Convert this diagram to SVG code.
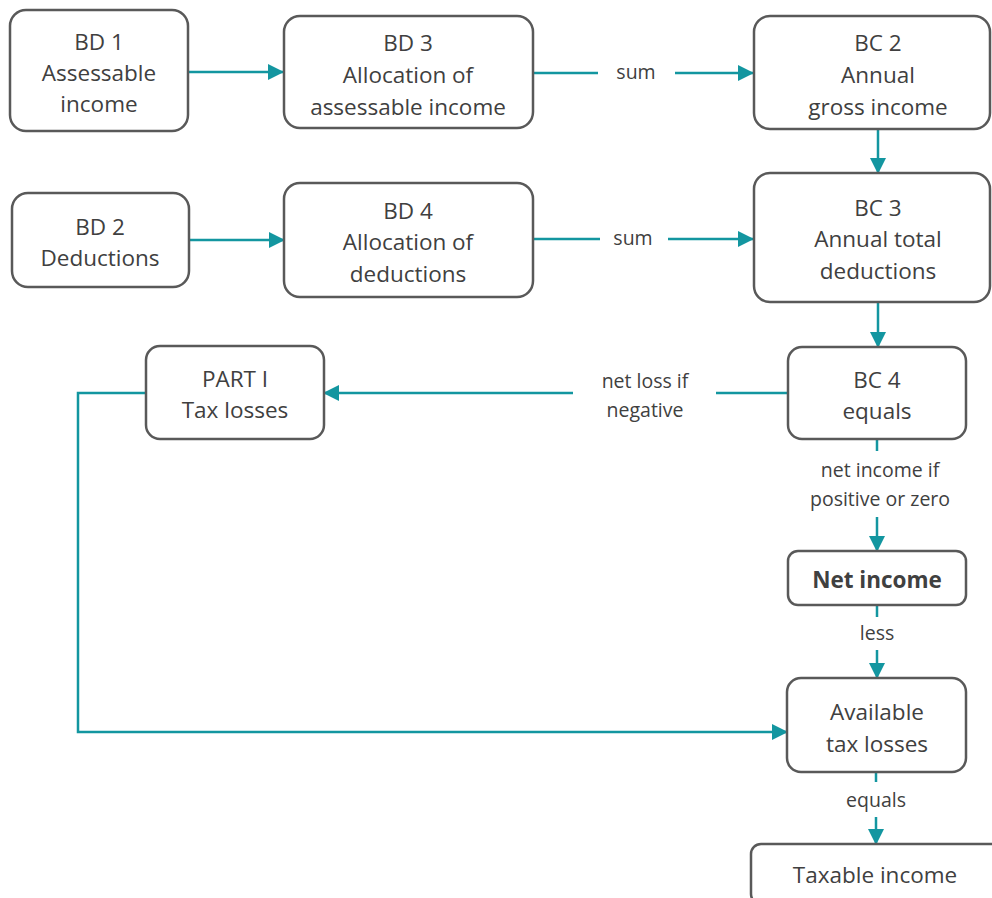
<svg xmlns="http://www.w3.org/2000/svg" width="992" height="898" viewBox="0 0 992 898">
<defs>
<marker id="arr" markerUnits="userSpaceOnUse" markerWidth="16" markerHeight="16" viewBox="0 0 16 16" refX="15" refY="8" orient="auto">
<path d="M0,0 L16,8 L0,16 Z" fill="#1396a0"/>
</marker>
<style>
.box{fill:#fff;stroke:#595959;stroke-width:2.5}
.t{font-family:"Open Sans","Noto Sans",sans-serif;font-size:22.5px;fill:#404040;text-anchor:middle}
.b{font-weight:bold}
.l{font-family:"Open Sans","Noto Sans",sans-serif;font-size:19.5px;fill:#404040;text-anchor:middle}
.c{fill:none;stroke:#1396a0;stroke-width:2.5}
</style>
</defs>
<rect width="992" height="898" fill="#fff"/>
<g id="connectors">
<line class="c" x1="189" y1="72" x2="283" y2="72" marker-end="url(#arr)"/>
<line class="c" x1="534" y1="73" x2="598" y2="73"/>
<line class="c" x1="675" y1="73" x2="753" y2="73" marker-end="url(#arr)"/>
<line class="c" x1="190" y1="240" x2="284" y2="240" marker-end="url(#arr)"/>
<line class="c" x1="534" y1="239" x2="600" y2="239"/>
<line class="c" x1="668" y1="239" x2="753" y2="239" marker-end="url(#arr)"/>
<line class="c" x1="878" y1="130" x2="878" y2="173" marker-end="url(#arr)"/>
<line class="c" x1="878" y1="303" x2="878" y2="347" marker-end="url(#arr)"/>
<line class="c" x1="788" y1="393" x2="716" y2="393"/>
<line class="c" x1="573" y1="393" x2="324" y2="393" marker-end="url(#arr)"/>
<line class="c" x1="877" y1="440" x2="877" y2="451"/>
<line class="c" x1="877" y1="517" x2="877" y2="551" marker-end="url(#arr)"/>
<line class="c" x1="877" y1="606" x2="877" y2="617"/>
<line class="c" x1="877" y1="650" x2="877" y2="678" marker-end="url(#arr)"/>
<polyline class="c" points="146,393 78,393 78,732 787,732" marker-end="url(#arr)"/>
<line class="c" x1="876" y1="773" x2="876" y2="782"/>
<line class="c" x1="876" y1="817" x2="876" y2="844" marker-end="url(#arr)"/>
<text class="l" x="636" y="79">sum</text>
<text class="l" x="633" y="245">sum</text>
<text class="l" x="645" y="388">net loss if</text>
<text class="l" x="645" y="417">negative</text>
<text class="l" x="880" y="477">net income if</text>
<text class="l" x="880" y="506">positive or zero</text>
<text class="l" x="877" y="640">less</text>
<text class="l" x="876" y="807">equals</text>
</g>
<g id="bd1"><rect class="box" x="10" y="10" width="178" height="121" rx="16"/>
<text class="t" x="99" y="50">BD 1</text><text class="t" x="99" y="81">Assessable</text><text class="t" x="99" y="112">income</text></g>
<g id="bd3"><rect class="box" x="284" y="16" width="249" height="112" rx="16"/>
<text class="t" x="408" y="51">BD 3</text><text class="t" x="408" y="83">Allocation of</text><text class="t" x="408" y="115">assessable income</text></g>
<g id="bc2"><rect class="box" x="754" y="16" width="236" height="113" rx="16"/>
<text class="t" x="878" y="51">BC 2</text><text class="t" x="878" y="83">Annual</text><text class="t" x="878" y="115">gross income</text></g>
<g id="bd2"><rect class="box" x="12" y="193" width="177" height="94" rx="16"/>
<text class="t" x="100" y="235">BD 2</text><text class="t" x="100" y="266">Deductions</text></g>
<g id="bd4"><rect class="box" x="284" y="183" width="249" height="114" rx="16"/>
<text class="t" x="408" y="219">BD 4</text><text class="t" x="408" y="250">Allocation of</text><text class="t" x="408" y="282">deductions</text></g>
<g id="bc3"><rect class="box" x="754" y="173" width="236" height="129" rx="16"/>
<text class="t" x="878" y="216">BC 3</text><text class="t" x="878" y="247">Annual total</text><text class="t" x="878" y="279">deductions</text></g>
<g id="part1"><rect class="box" x="146" y="346" width="178" height="93" rx="14"/>
<text class="t" x="235" y="387">PART I</text><text class="t" x="235" y="418">Tax losses</text></g>
<g id="bc4"><rect class="box" x="788" y="347" width="178" height="92" rx="14"/>
<text class="t" x="877" y="388">BC 4</text><text class="t" x="877" y="419">equals</text></g>
<g id="netincome"><rect class="box" x="788" y="551" width="178" height="54" rx="10"/>
<text class="t b" x="877" y="588">Net income</text></g>
<g id="available"><rect class="box" x="787" y="678" width="179" height="94" rx="14"/>
<text class="t" x="877" y="720">Available</text><text class="t" x="877" y="752">tax losses</text></g>
<g id="taxable"><rect class="box" x="751" y="844" width="250" height="60" rx="10"/>
<text class="t" x="875" y="883">Taxable income</text></g>
</svg>
